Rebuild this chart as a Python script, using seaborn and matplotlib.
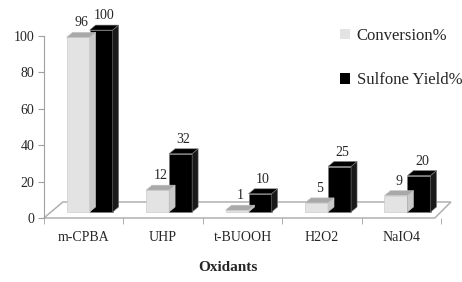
import pandas as pd
import matplotlib
matplotlib.use("Agg")
import matplotlib.pyplot as plt
import matplotlib.transforms as mtransforms
from matplotlib.patches import Polygon
import seaborn as sns

# chart data
oxidants = ["m-CPBA", "UHP", "t-BUOOH", "H2O2", "NaIO4"]
conversion = [96, 12, 1, 5, 9]
sulfone_yield = [100, 32, 10, 25, 20]
series_names = ["Conversion%", "Sulfone Yield%"]

df = pd.DataFrame({
    "Oxidant": oxidants * 2,
    "Series": [series_names[0]] * len(oxidants) + [series_names[1]] * len(oxidants),
    "Value": conversion + sulfone_yield,
})

sns.set_style("white")
plt.rcParams["font.family"] = ["Liberation Serif", "DejaVu Serif"]

fig = plt.figure(figsize=(4.62, 2.82), dpi=100)
ax = fig.add_axes([0.095, 0.227, 0.86, 0.645])

colors = ["#e3e3e3", "#000000"]
sns.barplot(data=df, x="Oxidant", y="Value", hue="Series", palette=colors,
            width=0.58, gap=0, ax=ax, saturation=1, edgecolor="#9a9a9a",
            linewidth=0.4, legend=True)

ax.set_xlim(-0.5, len(oxidants) - 0.5)
ax.set_ylim(0, 100)
ax.set_yticks(range(0, 101, 20))
ax.set_xlabel("")
ax.set_ylabel("")

# pixel -> data conversion for the fake 3D look
ppx = ax.bbox.width / (len(oxidants))
ppy = ax.bbox.height / 100.0
dx, dy = 6 / ppx, 5 / ppy          # depth of bar tops
lift = mtransforms.ScaledTranslation(6 / 100, 6 / 100, fig.dpi_scale_trans)
bar_tr = ax.transData + lift

# floor
fx0, fx1 = -0.5, len(oxidants) - 0.58
floor = Polygon([(fx0, 0), (fx1, 0), (fx1 + 16 / ppx, 16 / ppy), (fx0 + 19 / ppx, 16 / ppy)],
                closed=True, facecolor="white", edgecolor="#b0b0b0", lw=1.1,
                clip_on=False, zorder=0.5)
ax.add_patch(floor)

tops = {"#e3e3e3": ("#a9a9a9", "#c9c9c9"), "#000000": ("#000000", "#1a1a1a")}
edges = {"#e3e3e3": "#c4c4c4", "#000000": "#7a7a7a"}
for container, col, vals in zip(ax.containers, colors, [conversion, sulfone_yield]):
    top_c, side_c = tops[col]
    for bar, v in zip(container, vals):
        bar.set_transform(bar_tr)
        bar.set_clip_on(False)
        bar.set_zorder(2)
        bar.set_edgecolor(edges[col])
        x0 = bar.get_x()
        x1 = x0 + bar.get_width()
        h = bar.get_height()
        top = Polygon([(x0, h), (x1, h), (x1 + dx, h + dy), (x0 + dx, h + dy)],
                      closed=True, facecolor=top_c, edgecolor=edges[col], lw=0.4,
                      transform=bar_tr, clip_on=False, zorder=2)
        side = Polygon([(x1, 0), (x1, h), (x1 + dx, h + dy), (x1 + dx, dy)],
                       closed=True, facecolor=side_c, edgecolor=edges[col], lw=0.4,
                       transform=bar_tr, clip_on=False, zorder=2)
        ax.add_patch(top)
        ax.add_patch(side)
        ax.text(x0 + (x1 - x0) / 2 + dx / 2, h + dy + 3 / ppy, str(v),
                transform=bar_tr, ha="center", va="bottom", fontsize=10,
                clip_on=False, zorder=3)

# axes styling
for s in ["top", "right"]:
    ax.spines[s].set_visible(False)
ax.spines["left"].set_color("#a0a0a0")
ax.spines["bottom"].set_visible(False)
ax.tick_params(axis="y", left=True, length=4, color="#a0a0a0", labelsize=10, pad=3)
ax.set_xticks([i + 0.5 for i in range(-1, len(oxidants))], minor=True)
ax.tick_params(axis="x", which="minor", bottom=True, length=4, color="#a0a0a0")
ax.tick_params(axis="x", which="major", bottom=False, labelsize=10, pad=6)

fig.text(0.493, 0.053, "Oxidants", ha="center", va="center",
         fontsize=11, fontweight="bold")

handles, labels = ax.get_legend_handles_labels()
for hd in handles:
    hd.set_edgecolor("none")
ax.legend(handles, labels, loc="upper left", bbox_to_anchor=(340 / 462, 1 - 28 / 282),
          bbox_transform=fig.transFigure, frameon=False, fontsize=12,
          handlelength=0.6, handleheight=0.6, handletextpad=0.4,
          labelspacing=1.7, borderpad=0, borderaxespad=0)

fig.savefig("out.png", dpi=100)
